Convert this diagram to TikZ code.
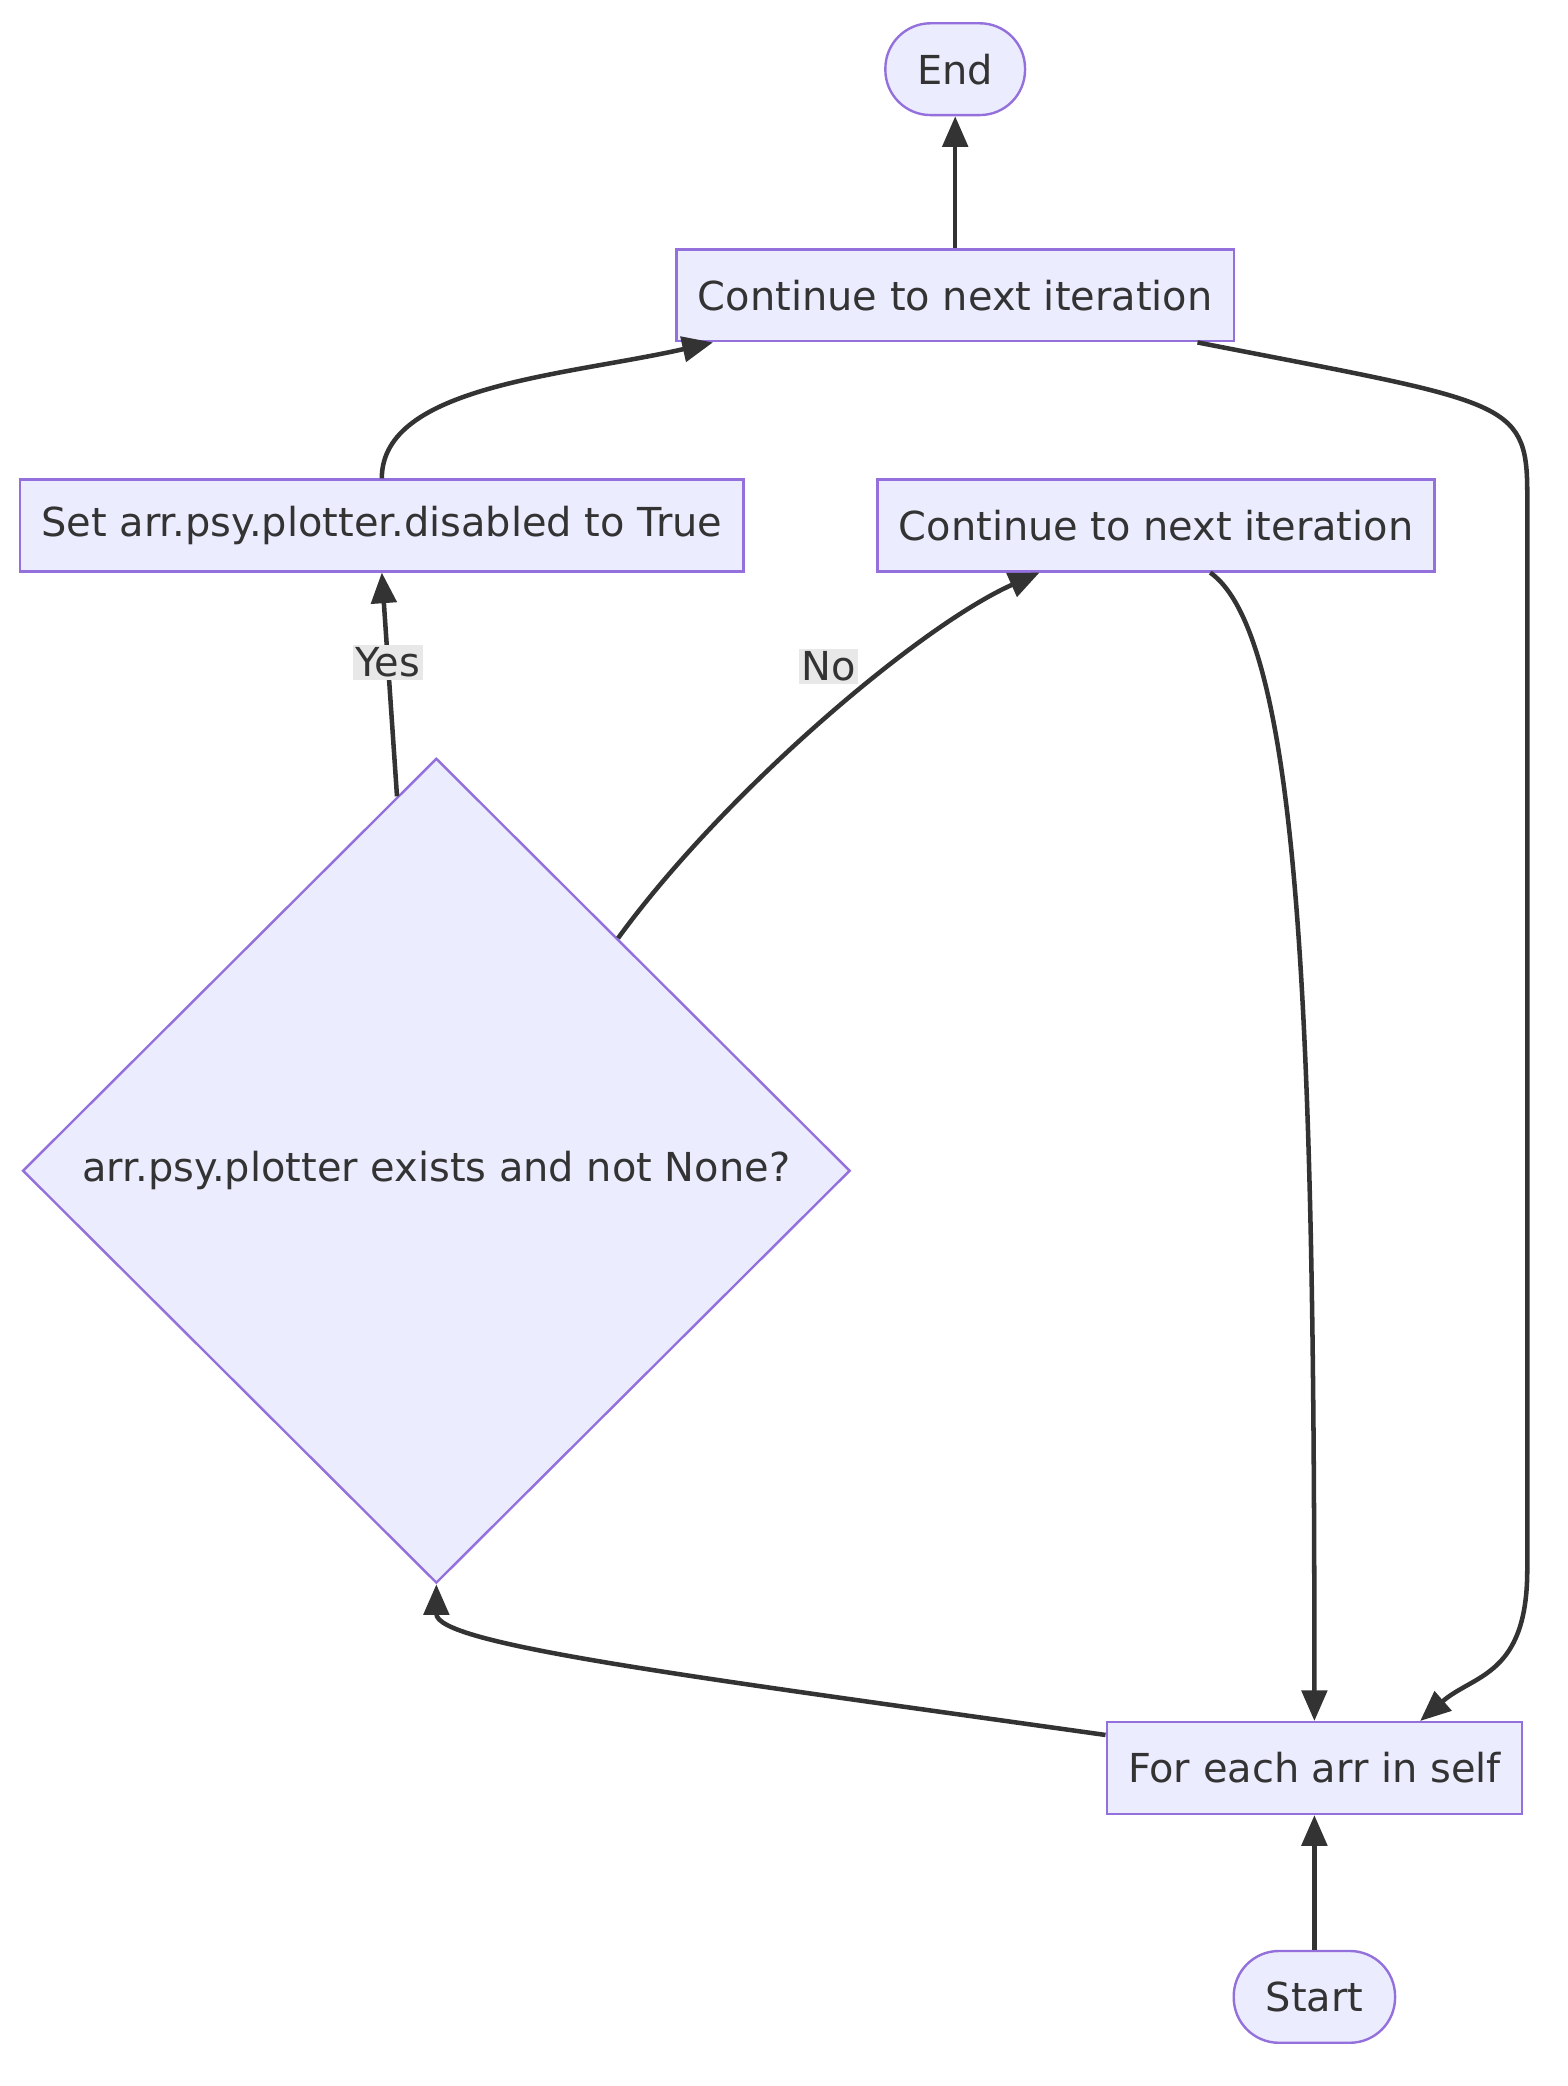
\documentclass[tikz,border=0pt]{standalone}
\usepackage{fontspec}
\setmainfont{DejaVu Sans}
\usetikzlibrary{positioning}
\usetikzlibrary{arrows.meta}
\usetikzlibrary{shapes.geometric}

\definecolor{nodefill}{HTML}{ECECFF}
\definecolor{nodeline}{HTML}{9370DB}
\definecolor{edgeline}{HTML}{333333}
\definecolor{labelfill}{HTML}{E8E8E8}

\begin{document}
\begin{tikzpicture}[x=1pt,y=-1pt,
    every node/.style={font=\fontsize{30}{36}\selectfont,text=edgeline},
    box/.style={draw=nodeline,fill=nodefill,line width=1.8pt,minimum height=69pt,inner xsep=16pt},
    term/.style={box,rounded corners=34pt,inner xsep=24pt},
    decision/.style={diamond,draw=nodeline,fill=nodefill,line width=1.8pt,minimum width=622pt,minimum height=620pt,inner sep=0pt},
    flow/.style={draw=edgeline,line width=3.4pt,-{Triangle[length=23pt,width=19pt]}},
    answer/.style={fill=labelfill,inner sep=2pt}]
\useasboundingbox (0,0) rectangle (1178.6,1568);

\node[term] (stop) at (718,52) {End};
\node[box] (nextA) at (718,222) {Continue to next iteration};
\node[box] (setoff) at (287,395) {Set arr.psy.plotter.disabled to True};
\node[box] (nextB) at (869,395) {Continue to next iteration};
\node[decision] (check) at (328,880) {arr.psy.plotter exists and not None?};
\node[box] (each) at (988,1329) {For each arr in self};
\node[term] (start) at (988,1501) {Start};

\draw[flow] (start) -- (each);
\draw[flow] (nextA) -- (stop);
\draw[flow] (each.171) .. controls +(-320,-45) and +(0,45) .. (check.south);
\draw[flow] (check.96) -- node[answer,pos=0.6] {Yes} (setoff.south);
\draw[flow] (check.52) .. controls +(80,-110) and +(-90,40) .. node[answer,pos=0.55,xshift=-14pt,yshift=26pt] {No} (nextB.202);
\draw[flow] (setoff.north) .. controls +(0,-70) and +(-110,25) .. (nextA.191);
\draw[flow] (nextB.-41) .. controls +(70,50) and +(0,-500) .. (each.north);
\draw[flow] (nextA.-11) .. controls +(230,45) and +(0,-70) .. (1148,370) -- (1148,1180)
  .. controls +(0,80) and +(40,-35) .. (each.24);
\end{tikzpicture}
\end{document}
